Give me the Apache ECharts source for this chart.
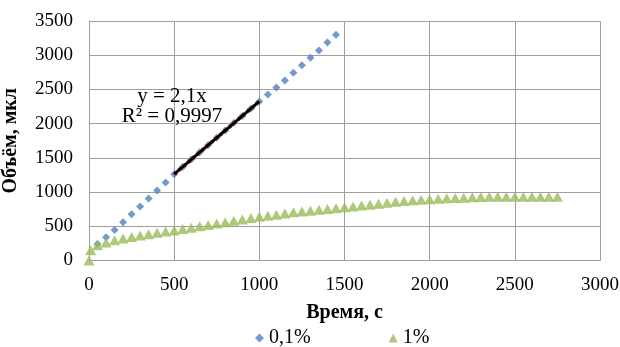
<!DOCTYPE html>
<html>
<head>
<meta charset="utf-8">
<script src="https://cdn.jsdelivr.net/npm/echarts@6/dist/echarts.min.js"></script>
<style>
  html, body { margin: 0; padding: 0; background: #fff; }
  #chart { width: 620px; height: 347px; }
</style>
</head>
<body>
<div id="chart"></div>
<script>
// данные
const timeBlue = [50, 100, 150, 200, 250, 300, 350, 400, 450, 500, 550, 600, 650, 700, 750, 800, 850, 900, 950, 1000,
  1050, 1100, 1150, 1200, 1250, 1300, 1350, 1400, 1450]
const volBlue = [240, 340, 447, 558, 675, 790, 905, 1022, 1140, 1260, 1368, 1475, 1582, 1688, 1795, 1900, 2008, 2113, 2218, 2325,
  2427, 2527, 2632, 2742, 2854, 2962, 3068, 3185, 3300]

const timeGreen = [0, 10, 50, 100, 150, 200, 250, 300, 350, 400, 450, 500, 550, 600, 650, 700, 750, 800, 850, 900, 950, 1000,
  1050, 1100, 1150, 1200, 1250, 1300, 1350, 1400, 1450, 1500, 1550, 1600, 1650, 1700, 1750, 1800, 1850, 1900, 1950, 2000,
  2050, 2100, 2150, 2200, 2250, 2300, 2350, 2400, 2450, 2500, 2550, 2600, 2650, 2700, 2750]
const volGreen = [0, 150, 222, 262, 297, 322, 345, 365, 385, 405, 423, 440, 460, 480, 500, 520, 540, 560, 580, 600, 620, 639,
  655, 670, 688, 704, 715, 726, 740, 752, 765, 777, 790, 802, 815, 830, 845, 858, 870, 880, 889, 896,
  903, 908, 913, 918, 925, 928, 930, 930, 932, 933, 933, 933, 933, 933, 933]

const xTicks = [0, 500, 1000, 1500, 2000, 2500, 3000]
const yTicks = [0, 500, 1000, 1500, 2000, 2500, 3000, 3500]

const trendRange = [500, 1000]
const seriesNames = ['0,1%', '1%']

// линейная аппроксимация по точкам 500..1000
function fitTrend() {
  const pts = timeBlue.map((t, i) => [t, volBlue[i]]).filter(p => p[0] >= trendRange[0] && p[0] <= trendRange[1])
  const n = pts.length
  let sx = 0, sy = 0, sxx = 0, sxy = 0
  pts.forEach(p => { sx += p[0]; sy += p[1]; sxx += p[0] * p[0]; sxy += p[0] * p[1] })
  const k = (n * sxy - sx * sy) / (n * sxx - sx * sx)
  const b = (sy - k * sx) / n
  return trendRange.map(t => [t, k * t + b])
}

const serif = '"Liberation Serif", "Times New Roman", serif'
const gridColor = '#9f9f9f'

const chart = echarts.init(document.getElementById('chart'))
const trend = fitTrend()

chart.setOption({
  animation: false,
  backgroundColor: '#fff',
  grid: { left: 89, right: 20, top: 21, bottom: 86.5, outerBoundsMode: 'none', containLabel: false },
  xAxis: {
    type: 'value',
    min: xTicks[0],
    max: xTicks[xTicks.length - 1],
    interval: 500,
    name: 'Время, с',
    nameLocation: 'middle',
    nameGap: 42,
    nameTextStyle: { fontFamily: serif, fontSize: 20, fontWeight: 'bold', color: '#000' },
    axisLine: { lineStyle: { color: gridColor } },
    axisTick: { show: false },
    axisLabel: { fontFamily: serif, fontSize: 19, color: '#000', margin: 15, formatter: v => String(v) },
    splitLine: { show: true, lineStyle: { color: gridColor, width: 1 } }
  },
  yAxis: {
    type: 'value',
    min: yTicks[0],
    max: yTicks[yTicks.length - 1],
    interval: 500,
    name: 'Объём, мкл',
    nameLocation: 'middle',
    nameGap: 68,
    nameTextStyle: { fontFamily: serif, fontSize: 20, fontWeight: 'bold', color: '#000' },
    axisLine: { show: true, lineStyle: { color: gridColor } },
    axisTick: { show: false },
    axisLabel: { fontFamily: serif, fontSize: 19, color: '#000', margin: 16, formatter: v => String(v) },
    splitLine: { show: true, lineStyle: { color: gridColor, width: 1 } }
  },
  legend: {
    data: [
      { name: seriesNames[0], icon: 'diamond' },
      { name: seriesNames[1], icon: 'triangle' }
    ],
    bottom: -6,
    left: 250,
    itemWidth: 9,
    itemHeight: 9,
    itemGap: 78,
    textStyle: { fontFamily: serif, fontSize: 20, color: '#000' }
  },
  series: [
    {
      name: seriesNames[0],
      type: 'scatter',
      symbol: 'diamond',
      symbolSize: 8,
      itemStyle: { color: '#4f81bd' },
      data: timeBlue.map((t, i) => [t, volBlue[i]]),
      z: 2
    },
    {
      name: 'trend-red',
      type: 'line',
      symbol: 'none',
      lineStyle: { color: '#d9362b', width: 4, type: [3, 3] },
      data: trend,
      z: 3
    },
    {
      name: 'trend',
      type: 'line',
      symbol: 'none',
      lineStyle: { color: '#000', width: 3 },
      data: trend,
      z: 4
    },
    {
      name: seriesNames[1],
      type: 'scatter',
      symbol: 'triangle',
      symbolSize: [11, 10],
      itemStyle: { color: '#9bbb59' },
      data: timeGreen.map((t, i) => [t, volGreen[i]]),
      z: 5
    }
  ],
  graphic: [
    {
      type: 'text',
      x: 172,
      y: 86,
      style: {
        text: 'y = 2,1x\nR² = 0,9997',
        font: '21px ' + serif,
        fill: '#000',
        align: 'center',
        lineHeight: 20
      },
      z: 10
    }
  ]
})
</script>
</body>
</html>
